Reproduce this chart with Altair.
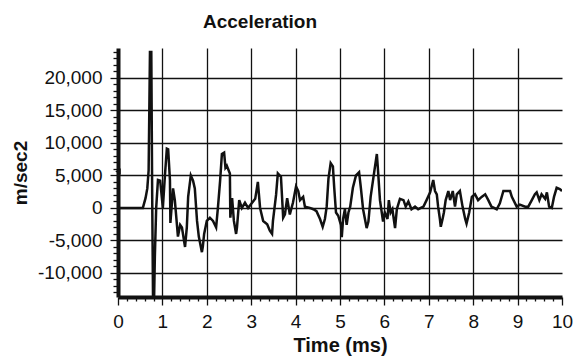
import altair as alt
import pandas as pd

# Acceleration trace (time in ms, acceleration in m/sec2)
time_ms = [0, 0.56, 0.62, 0.66, 0.69, 0.72, 0.75, 0.77, 0.79, 0.81, 0.83, 0.86, 0.90, 0.95,
           1.01, 1.06, 1.10, 1.13, 1.17, 1.18, 1.24, 1.28, 1.33, 1.35, 1.40, 1.44, 1.51, 1.55,
           1.58, 1.64, 1.69, 1.73, 1.78, 1.82, 1.89, 1.91, 1.94, 2.00, 2.07, 2.14, 2.21, 2.25,
           2.30, 2.34, 2.39, 2.42, 2.45, 2.52, 2.53, 2.57, 2.61, 2.66, 2.68, 2.73, 2.79, 2.86,
           2.93, 3.02, 3.09, 3.15, 3.20, 3.27, 3.36, 3.42, 3.47, 3.49, 3.56, 3.60, 3.67, 3.72,
           3.76, 3.81, 3.87, 3.94, 4.01, 4.06, 4.10, 4.17, 4.21, 4.32, 4.40, 4.47, 4.55, 4.61,
           4.66, 4.70, 4.74, 4.79, 4.84, 4.87, 4.91, 4.96, 5.02, 5.04, 5.07, 5.11, 5.15, 5.19,
           5.23, 5.29, 5.36, 5.43, 5.47, 5.52, 5.60, 5.64, 5.69, 5.77, 5.83, 5.85, 5.90, 5.97,
           6.01, 6.07, 6.10, 6.14, 6.18, 6.24, 6.28, 6.35, 6.43, 6.48, 6.54, 6.61, 6.69, 6.76,
           6.88, 6.95, 7.03, 7.10, 7.14, 7.18, 7.21, 7.25, 7.27, 7.31, 7.34, 7.38, 7.44, 7.48,
           7.54, 7.59, 7.63, 7.70, 7.76, 7.82, 7.85, 7.91, 7.97, 8.04, 8.11, 8.19, 8.27, 8.34,
           8.41, 8.53, 8.60, 8.68, 8.83, 8.87, 8.98, 9.05, 9.17, 9.24, 9.32, 9.39, 9.43, 9.49,
           9.54, 9.62, 9.66, 9.71, 9.77, 9.82, 9.88, 9.95, 10.0]
accel = [0, 0, 1500, 3000, 5800, 24000, 24000, 2000, -15000, -15000, -7500, 0, 4300, 4200,
         0, 5300, 9100, 9000, 4300, -2300, 3000, 1200, -2800, -4400, -2600, -3000, -6000, -3000,
         1700, 5000, 4200, 3000, -2000, -4400, -6800, -6000, -4000, -2000, -1500, -2000, -3000, 0,
         4200, 8300, 8500, 6200, 6500, 5300, -1500, 1500, -2000, -4000, -3000, 1200, 0, 800,
         0, 800, 1400, 4000, 0, -2000, -2500, -3500, -4000, -2000, 2000, 5300, 4800, -1500,
         -1000, 1500, -1000, 800, 3300, 2600, 1200, 1700, 200, 0, -200, -500, -1700, -2900,
         -1700, 200, 4500, 6900, 6400, 3100, -700, -1200, -2600, -4500, -1700, -200, -2600, -700,
         200, 3100, 5000, 5500, 3100, -200, -3100, -2100, 1700, 5500, 8300, 6400, 1200, -2100,
         -700, -1700, 1200, -700, -200, -3100, -200, 1400, 1200, 200, 1000, -200, 200, -200,
         200, 1200, 2400, 4300, 2600, 2100, 200, -1700, -2900, -1700, -700, 1200, 2600, 1200,
         2600, 200, 2100, 2600, 200, -1700, -2400, -700, 1700, 2100, 1200, 1700, 2100, 1200,
         200, -200, 700, 2600, 2600, 1700, 200, 500, 200, 200, 1200, 2100, 2400, 1200,
         2100, 1400, 2400, 200, 0, 1700, 3100, 2900, 2600]

# Axis tick values
x_ticks = [0, 0.2, 0.4, 0.6, 0.8, 1, 1.2, 1.4, 1.6, 1.8, 2, 2.2, 2.4, 2.6, 2.8, 3, 3.2, 3.4,
           3.6, 3.8, 4, 4.2, 4.4, 4.6, 4.8, 5, 5.2, 5.4, 5.6, 5.8, 6, 6.2, 6.4, 6.6, 6.8, 7,
           7.2, 7.4, 7.6, 7.8, 8, 8.2, 8.4, 8.6, 8.8, 9, 9.2, 9.4, 9.6, 9.8, 10]
y_ticks = list(range(-13000, 24001, 1000))

# marker on the y axis near 5,000
marker_t = [0]
marker_v = [5600]

FONT = "Liberation Sans"
INK = "#111111"

df = pd.DataFrame({"t": time_ms, "a": accel})
mk = pd.DataFrame({"t": marker_t, "a": marker_v})

is_int = "abs(datum.value - round(datum.value)) < 0.01"

x_enc = alt.X(
    "t:Q",
    title="Time (ms)",
    scale=alt.Scale(domain=[0, 10], nice=False, zero=False),
    axis=alt.Axis(
        values=x_ticks,
        tickCount=500,
        labelExpr=f"{is_int} ? format(round(datum.value), 'd') : ''",
        tickSize={"condition": {"test": is_int, "value": 8}, "value": 4},
        grid=True,
        gridColor=INK,
        gridWidth=1.3,
        gridOpacity={"condition": {"test": f"{is_int} && datum.value > 0.5 && datum.value < 9.5", "value": 1}, "value": 0},
        domainColor=INK,
        domainWidth=4,
        tickColor=INK,
        tickWidth=1.3,
        labelFont=FONT,
        labelFontSize=19,
        labelColor=INK,
        labelPadding=7,
        labelFlush=False,
        labelOverlap=False,
        titleFont=FONT,
        titleFontSize=20,
        titleFontWeight="bold",
        titleColor=INK,
        titlePadding=4,
    ),
)

y_enc = alt.Y(
    "a:Q",
    title="m/sec2",
    scale=alt.Scale(domain=[-13700, 24600], nice=False, zero=False),
    axis=alt.Axis(
        values=y_ticks,
        tickCount=500,
        labelExpr="datum.value % 5000 === 0 ? replace(format(datum.value, ','), '\u2212', '-') : ''",
        tickSize={"condition": {"test": "datum.value % 5000 === 0", "value": 8}, "value": 5},
        grid=True,
        gridColor=INK,
        gridWidth=1.3,
        gridOpacity={"condition": {"test": "datum.value % 5000 === 0", "value": 1}, "value": 0},
        domainColor=INK,
        domainWidth=4,
        tickColor=INK,
        tickWidth=1.3,
        labelFont=FONT,
        labelFontSize=19,
        labelColor=INK,
        labelPadding=8,
        labelOverlap=False,
        titleFont=FONT,
        titleFontSize=19,
        titleFontWeight="bold",
        titleColor=INK,
        titlePadding=7,
    ),
)

line = alt.Chart(df).mark_line(color=INK, strokeWidth=2.5, clip=True).encode(x=x_enc, y=y_enc)

marker = alt.Chart(mk).mark_point(
    shape="triangle-left", filled=True, color=INK, size=40, opacity=1
).encode(x="t:Q", y="a:Q")

chart = (
    alt.layer(line, marker)
    .properties(
        width=444,
        height=249,
        autosize=alt.AutoSizeParams(type="none"),
        padding={"left": 118, "top": 48, "right": 16, "bottom": 65},
        title=alt.TitleParams(
            "Acceleration",
            font=FONT,
            fontSize=19,
            fontWeight="bold",
            color=INK,
            anchor="middle",
            frame="group",
            dx=-80,
            baseline="alphabetic",
            offset=-4,
        ),
        background="white",
    )
    .configure_view(strokeOpacity=0)
)

chart.save("out.html", embed_options={"renderer": "svg", "actions": False})
